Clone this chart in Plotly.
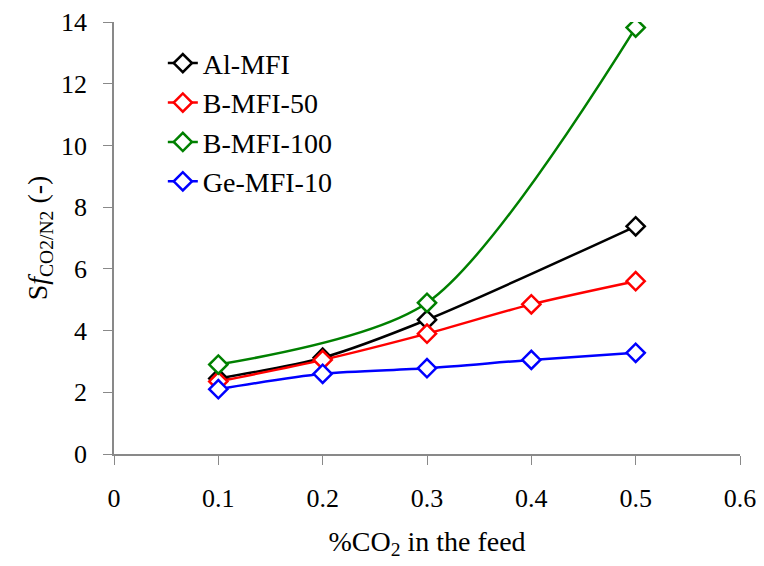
import plotly.graph_objects as go

# Data
al_x = [0.1, 0.2, 0.3, 0.5]
al_y = [2.45, 3.12, 4.35, 7.38]
b50_x = [0.1, 0.2, 0.3, 0.4, 0.5]
b50_y = [2.35, 3.05, 3.9, 4.85, 5.6]
b100_x = [0.1, 0.3, 0.5]
b100_y = [2.9, 4.9, 13.82]
ge_x = [0.1, 0.2, 0.3, 0.4, 0.5]
ge_y = [2.1, 2.6, 2.78, 3.05, 3.28]

x_ticks = [0, 0.1, 0.2, 0.3, 0.4, 0.5, 0.6]
x_ticktext = ["0", "0.1", "0.2", "0.3", "0.4", "0.5", "0.6"]
y_ticks = [0, 2, 4, 6, 8, 10, 12, 14]

names = ["Al-MFI", "B-MFI-50", "B-MFI-100", "Ge-MFI-10"]
colors = ["#000000", "#FF0000", "#008000", "#0000FF"]
series = [(al_x, al_y), (b50_x, b50_y), (b100_x, b100_y), (ge_x, ge_y)]

FONT = "Liberation Serif, DejaVu Serif, serif"
AX = "#898989"

fig = go.Figure()
for (xs, ys), name, c in zip(series, names, colors):
    fig.add_trace(go.Scatter(
        x=xs, y=ys, name=name, mode="lines+markers",
        line=dict(color=c, width=2.5, shape="spline", smoothing=0.8),
        marker=dict(symbol="diamond", size=14, color="white",
                    line=dict(color=c, width=2.5)),
    ))

fig.update_layout(
    width=756, height=558,
    margin=dict(l=106, r=24, t=14, b=112),
    paper_bgcolor="white", plot_bgcolor="white",
    font=dict(family=FONT, size=26, color="black"),
    showlegend=True,
    legend=dict(x=0.078, y=0.962, xanchor="left", yanchor="top",
                bgcolor="rgba(0,0,0,0)", font=dict(family=FONT, size=28),
                itemwidth=30, tracegroupgap=0),
    xaxis=dict(range=[0, 0.6], tickvals=x_ticks, ticktext=x_ticktext,
               showgrid=False, zeroline=False, automargin=False,
               ticklabeloverflow="allow", ticklabelstandoff=11,
               showline=True, linecolor=AX, linewidth=1.5,
               ticks="outside", ticklen=9, tickcolor=AX,
               tickfont=dict(family=FONT, size=26),
               title=dict(text="%CO<sub>2</sub> in the feed", font=dict(family=FONT, size=28), standoff=19)),
    yaxis=dict(range=[0, 14], tickvals=y_ticks,
               showgrid=False, zeroline=False, automargin=False,
               ticklabeloverflow="allow", ticklabelstandoff=11,
               showline=True, linecolor=AX, linewidth=1.5,
               ticks="outside", ticklen=9, tickcolor=AX,
               tickfont=dict(family=FONT, size=26),
               title=dict(text="S<i>f</i><sub>CO2/N2</sub> (-)", font=dict(family=FONT, size=28), standoff=5)),
)

fig.write_html("out.html")
